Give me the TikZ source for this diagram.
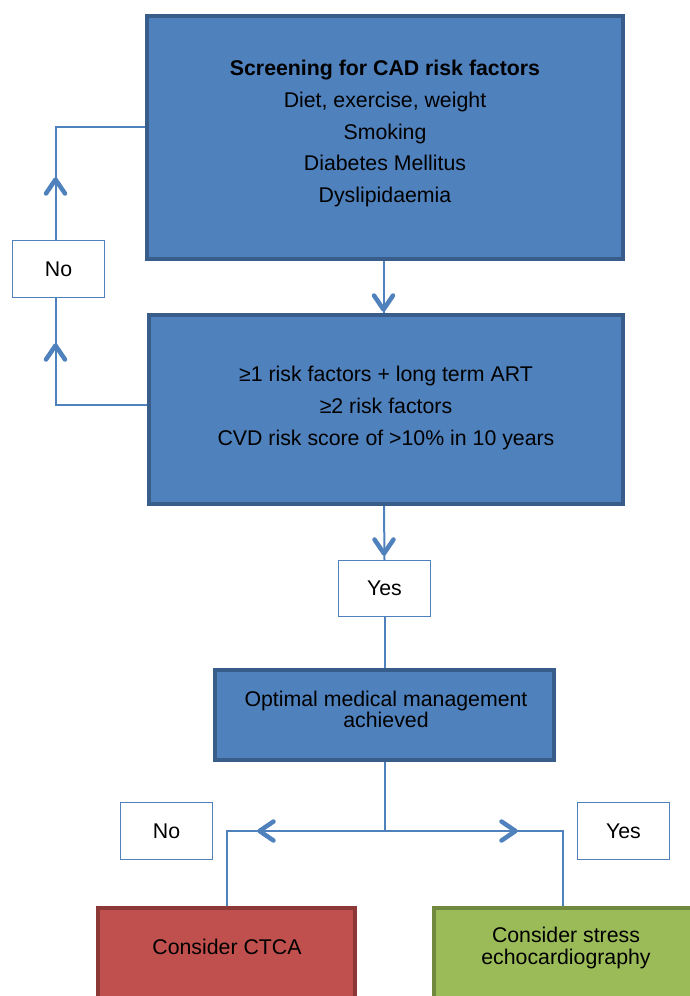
\documentclass[tikz,border=0pt]{standalone}
\usepackage{fontspec}
\setmainfont{Liberation Sans}
\definecolor{bfill}{HTML}{4F81BD}
\definecolor{bbord}{HTML}{385D8A}
\definecolor{rfill}{HTML}{C0504D}
\definecolor{rbord}{HTML}{8C3836}
\definecolor{gfill}{HTML}{9BBB59}
\definecolor{gbord}{HTML}{71893F}
\definecolor{lcol}{HTML}{4F81BD}
\tikzset{
  bigbox/.style={draw=bbord, fill=bfill, line width=4pt, inner sep=0pt},
  redbox/.style={draw=rbord, fill=rfill, line width=4pt, inner sep=0pt},
  greenbox/.style={draw=gbord, fill=gfill, line width=4pt, inner sep=0pt},
  smallbox/.style={draw=lcol, fill=white, line width=1.5pt, inner sep=0pt,
    minimum width=92pt, minimum height=57pt, font=\fontsize{21.3}{23}\selectfont},
  txt/.style={align=center, inner sep=0pt, text=black},
  conn/.style={draw=lcol, line width=2pt},
  chevl/.style={draw=lcol, line width=4.5pt, line cap=round, line join=round},
  chev/.pic={\draw[chevl] (-14,9.5) -- (0,0) -- (-14,-9.5);}
}
\begin{document}
\begin{tikzpicture}[x=1pt,y=1pt]
\useasboundingbox (0,0) rectangle (690,-996);
\clip (0,0) rectangle (690,-996);
% boxes
\node[bigbox, minimum width=476pt, minimum height=243pt] (b1) at (385,-137.5) {};
\node[bigbox, minimum width=474pt, minimum height=189pt] (b2) at (386,-409.5) {};
\node[bigbox, minimum width=339pt, minimum height=90pt] (b3) at (384.5,-715) {};
\node[redbox, minimum width=257pt, minimum height=150pt] (red) at (226.5,-983) {};
\node[greenbox, minimum width=258pt, minimum height=150pt] (green) at (563,-983) {};
% texts
\node[txt, font=\fontsize{21.3}{31.75}\selectfont] (t1) at (385,-133.5)
  {\textbf{Screening for CAD risk factors}\\Diet, exercise, weight\\Smoking\\Diabetes Mellitus\\Dyslipidaemia};
\node[txt, font=\fontsize{21.3}{32}\selectfont] (t2) at (386,-407.5)
  {≥1 risk factors + long term ART\\≥2 risk factors\\CVD risk score of >10\% in 10 years};
\node[txt, font=\fontsize{21.3}{21.5}\selectfont] (t3) at (386,-709.5)
  {Optimal medical management\\achieved};
\node[txt, font=\fontsize{21.3}{23}\selectfont] (tr) at (227,-947) {Consider CTCA};
\node[txt, font=\fontsize{21.3}{22.5}\selectfont] (tg) at (566,-948) {Consider stress\\echocardiography};
% small boxes
\node[smallbox] (no1) at (58.5,-269) {No};
\node[smallbox, minimum height=56pt] (yes1) at (384.5,-588.5) {Yes};
\node[smallbox] (no2) at (166.5,-831) {No};
\node[smallbox] (yes2) at (623.5,-831) {Yes};
% connectors
\draw[conn] ([yshift=5pt]b2.west) -| ([xshift=-3pt]no1.south);
\draw[conn] ([xshift=-3pt]no1.north) |- ([yshift=10.5pt]b1.west);
\draw[conn] ([xshift=-1.5pt]b1.south) -- ([xshift=-2.5pt]b2.north);
\draw[conn] ([xshift=-2pt]b2.south) -- (yes1.north);
\draw[conn] (yes1.south) -- (b3.north);
\coordinate (j) at (384.5,-831);
\draw[conn] (b3.south) -- (j);
\draw[conn] (j) -| (red.north);
\draw[conn] (j) -| (green.north);
% chevrons
\pic[rotate=90] at (55.5,-179.5) {chev};
\pic[rotate=90] at (55.5,-345.5) {chev};
\pic[rotate=-90] at (383.5,-309.5) {chev};
\pic[rotate=-90] at (384,-553.5) {chev};
\pic[rotate=180] at (259.5,-831) {chev};
\pic at (515.5,-831) {chev};
\end{tikzpicture}
\end{document}
